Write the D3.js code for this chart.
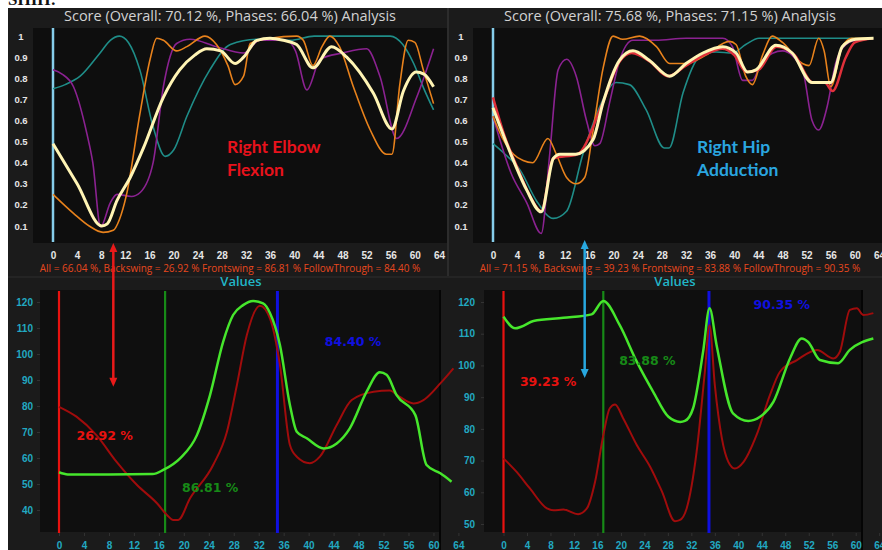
<!DOCTYPE html>
<html>
<head>
<meta charset="utf-8">
<script src="https://cdn.jsdelivr.net/npm/d3@7"></script>
<style>
  body { margin: 0; background: #fff; }
  svg { display: block; font-family: "Open Sans", "Noto Sans", sans-serif; }
</style>
</head>
<body>
<div class="plot"></div>
<script>
// Frames on the x axis and score ticks
const frameTicks = d3.range(0, 65, 4);
const scoreTicks = [0.1, 0.2, 0.3, 0.4, 0.5, 0.6, 0.7, 0.8, 0.9, 1];
const elbowValueTicks = [40, 50, 60, 70, 80, 90, 100, 110, 120];
const hipValueTicks = [50, 60, 70, 80, 90, 100, 110, 120];

// Phase boundaries (frames) and phase labels
const phaseFrames = [0, 17, 35];
const phaseLabelFrames = [2.8, 19.7, 42.6];
const elbowPhaseLabels = ["26.92 %", "86.81 %", "84.40 %"];
const elbowPhaseLabelValues = [68.5, 48.6, 104.7];
const hipPhaseLabels = ["39.23 %", "83.88 %", "90.35 %"];
const hipPhaseLabelValues = [95, 101.5, 119.3];

// Top-left: Right Elbow Flexion scores [frame, score]
const elbowAvg = [[0,0.49],[4,0.30],[8.1,0.10],[9,0.11],[10.6,0.22],[12.8,0.33],[15,0.47],[18.3,0.71],[21,0.84],[23.5,0.91],[25.5,0.94],[27.8,0.93],[30.2,0.87],[31.6,0.90],[33.8,0.98],[36,0.99],[38.2,0.98],[40.4,0.96],[43.1,0.85],[46.2,0.95],[48.7,0.90],[53.1,0.73],[56.2,0.56],[58.1,0.74],[60.2,0.83],[61.5,0.82],[63.1,0.76]];
const elbowTeal = [[0,0.75],[2,0.77],[4.5,0.81],[7.8,0.92],[9.5,0.98],[11,1.0],[12.5,0.97],[14.4,0.84],[16.6,0.57],[18.6,0.43],[20,0.46],[22.2,0.62],[26,0.84],[29.4,0.96],[33.8,0.985],[39.3,0.98],[43.3,1.0],[50,1.0],[55.9,1.0],[58,0.96],[59.8,0.87],[61.5,0.75],[63.1,0.65]];
const elbowPurple = [[0,0.84],[1.5,0.82],[3.4,0.76],[5.6,0.54],[6.6,0.40],[7.9,0.096],[9.5,0.21],[10.6,0.25],[13,0.24],[14.5,0.26],[16.6,0.40],[18.3,0.76],[20.5,0.965],[22.7,0.985],[27.1,0.95],[31.6,0.92],[34.3,0.98],[38.6,0.98],[40.2,0.93],[42.1,0.745],[44.3,0.89],[48,0.92],[52,0.94],[54.2,0.81],[57,0.515],[60.3,0.71],[63.1,0.94]];
const elbowOrange = [[0,0.25],[3.4,0.16],[6,0.10],[8.3,0.07],[10,0.08],[11,0.13],[12.2,0.25],[14.4,0.63],[16.1,0.89],[17.2,0.99],[18.3,0.98],[20.5,0.93],[22.2,0.95],[25.2,1.0],[27.1,0.96],[29,0.86],[30.2,0.77],[31.6,0.81],[32.7,0.965],[36,0.99],[40.4,1.0],[41.5,0.98],[43.1,0.86],[44.6,0.95],[45.9,1.0],[47.5,0.95],[49.8,0.76],[52.6,0.555],[55.3,0.44],[56.2,0.44],[57.5,0.77],[58.9,0.98],[60,0.97],[61.4,0.84],[63.1,0.68]];

// Top-right: Right Hip Adduction scores [frame, score]
const hipAvg = [[0,0.66],[3.4,0.41],[5.6,0.27],[8,0.167],[10,0.42],[11.1,0.44],[13.7,0.44],[16.6,0.51],[18.2,0.68],[21,0.886],[23.2,0.93],[25.9,0.886],[29.3,0.81],[32,0.87],[34.8,0.92],[38.1,0.95],[40.3,0.92],[42.2,0.83],[43.6,0.84],[46.9,0.957],[49.6,0.92],[52.9,0.78],[56,0.78],[57.9,0.95],[60.1,0.985],[63.1,0.99]];
const hipRed = [[0,0.71],[2,0.52],[4,0.38],[6,0.25],[8,0.17],[10,0.42],[14,0.44],[18,0.67],[21,0.88],[23,0.92],[26,0.88],[29,0.81],[32,0.86],[35,0.91],[38,0.94],[40,0.91],[42,0.83],[44,0.84],[47,0.95],[50,0.91],[53,0.78],[55,0.78],[56.3,0.74],[58.5,0.90],[60,0.97],[63,0.99]];
const hipTeal = [[0,0.49],[2,0.44],[4.5,0.365],[7.2,0.22],[10,0.136],[12.2,0.17],[14.9,0.44],[17.7,0.665],[20.4,0.78],[22.6,0.77],[25.4,0.65],[28.4,0.47],[29.2,0.47],[31.5,0.73],[34.2,0.90],[37,0.925],[39.7,0.92],[41.9,0.96],[44.1,0.99],[50,0.99],[63,0.99]];
const hipPurple = [[0,0.62],[3,0.35],[5.6,0.21],[8,0.065],[9.4,0.44],[10.8,0.84],[12.2,0.89],[13.8,0.81],[15.5,0.60],[16.9,0.48],[17.7,0.49],[19.3,0.68],[21,0.886],[23.2,0.98],[27,0.98],[32,0.99],[38.1,0.99],[39.7,0.95],[41.4,0.79],[43,0.79],[44.7,0.886],[48,0.93],[51.3,0.84],[52.9,0.60],[54,0.555],[55.4,0.665],[56.8,0.87],[58.5,0.96],[60,0.98],[63,0.99]];
const hipOrange = [[0,0.62],[1.5,0.52],[3.4,0.44],[5,0.41],[6.6,0.40],[9.1,0.515],[10.5,0.44],[12.2,0.33],[13.8,0.30],[15.2,0.33],[16.6,0.555],[18.2,0.84],[19.9,1.0],[21.5,0.985],[24.3,1.0],[27.1,0.95],[29.3,0.87],[32,0.87],[35.3,0.91],[39.2,0.975],[40.3,0.96],[41.9,0.81],[43,0.77],[44.7,0.91],[46.3,1.0],[48,0.97],[51.3,0.87],[52.4,0.86],[54,0.99],[54.9,0.93],[56,0.76],[57.9,0.95],[59.5,0.99],[63,0.99]];

// Bottom-left: elbow angle values [frame, value]
const elbowRed = [[0,79.7],[2.8,75.9],[6,68.8],[9.2,58.6],[12.5,49.6],[15.7,42.6],[17.3,38.1],[18.3,36.2],[19.1,36.2],[21,44.5],[24.7,57.3],[26.9,70],[28.5,88],[30.1,107.3],[32.2,118.6],[33.8,113.7],[35.4,95.8],[37,65],[38.1,60.5],[40.2,58],[41.8,60.5],[44.5,72.7],[46.9,82.3],[50.4,85.5],[53,86],[54.6,83.5],[56.8,81],[58.4,82.3],[61.1,88.7],[63.2,94.5]];
const elbowGreen = [[0,54.5],[1.4,53.7],[8,53.7],[15,53.8],[16.7,55.4],[19.4,59.9],[22.1,68.8],[24.2,84.2],[26.3,104.7],[27.9,115],[29.5,118.8],[31.1,120.4],[32.7,119.5],[33.8,115.8],[35.4,103.5],[37,80.4],[38.1,70.1],[39.7,67.6],[42.4,63.7],[44.5,65.6],[46.6,71.4],[49.3,85.5],[51.4,93],[52.5,92],[54.1,84.2],[57.1,76.5],[58.9,57.3],[61.1,54.1],[62.9,50.9]];

// Bottom-right: hip angle values [frame, value]
const hipValRed = [[0,70.7],[2.2,66.5],[4.5,61.2],[7.4,54.9],[8.5,54.3],[10.2,54.6],[12.7,53.1],[14.2,54.9],[15.6,63.3],[17,78],[18.1,86.5],[19,87.7],[20.4,83.3],[22.7,74.9],[25,68],[27,60.2],[29.2,50.9],[30,51.2],[31.2,54.9],[32.9,72.8],[34.3,98],[35.1,112.7],[36,93.8],[37.2,77],[38.3,69.6],[39.4,67.5],[40.9,69.6],[43.1,78],[45.4,90.7],[47.1,98],[50,101.7],[53.4,104.9],[56.2,102.2],[57.3,104.3],[59,117.5],[60.2,118],[61.3,115.9],[63,116.5]];
const hipValGreen = [[0,115.4],[2,111.7],[3,112.2],[5.1,114],[10.2,115],[15,116.1],[17,120.3],[19.8,112.7],[22.7,101.2],[25.5,91.7],[28.1,83.8],[30.1,82.2],[30.9,82.5],[32.3,86.5],[34,104.3],[35.1,118],[36.3,106.4],[39.1,84.9],[41.7,82.5],[43.7,83.8],[46,88.6],[48.8,102.2],[50.8,108.5],[51.9,107.4],[53.9,101.7],[57,100.7],[59,104.9],[63,108.5]];

const W = 882, H = 550;
const svg = d3.select(".plot").append("svg").attr("width", W).attr("height", H);

// page background + dark app area
svg.append("rect").attr("width", W).attr("height", H).attr("fill", "#fff");
svg.append("text").attr("x", 8).attr("y", 5).attr("font-family", "Liberation Serif")
    .attr("font-weight", "bold").attr("font-size", 17).attr("fill", "#111").text("SHIH:");
svg.append("rect").attr("x", 8).attr("y", 8).attr("width", W - 8).attr("height", H - 8).attr("fill", "#1b1b1b");

const phaseColors = ["#e8120f", "#178a17", "#1010e0"];

function drawTop(ox, title, subtitle, series, label, labelX, labelColor) {
    const g = svg.append("g");
    const x = d3.scaleLinear().domain([0, 64]).range([ox + 53, ox + 439]);
    const y = d3.scaleLinear().domain([0, 1]).range([247.1, 36.1]);

    g.append("rect").attr("x", ox + 33).attr("y", 28).attr("width", 414).attr("height", 215).attr("fill", "#0e0e0e");

    g.append("text").attr("x", ox + 230).attr("y", 21).attr("text-anchor", "middle")
        .attr("font-size", 14.5).attr("fill", "#d2d2d2").text(title);

    const ya = g.append("g").attr("transform", `translate(${ox + 33},0)`)
        .call(d3.axisLeft(y).tickValues(scoreTicks).tickFormat(d => d).tickSize(0));
    ya.select(".domain").remove();
    ya.selectAll("text").attr("x", -12).attr("text-anchor", "middle")
        .attr("fill", "#e6e6e6").attr("font-size", 9.5).attr("font-weight", 600);

    const xa = g.append("g").attr("transform", "translate(0,243)")
        .call(d3.axisBottom(x).tickValues(frameTicks).tickSize(0).tickPadding(9));
    xa.select(".domain").remove();
    xa.selectAll("text").attr("fill", "#e6e6e6").attr("font-size", 10).attr("font-weight", 600);

    g.append("line").attr("x1", x(0)).attr("x2", x(0)).attr("y1", 28).attr("y2", 242)
        .attr("stroke", "#86cdea").attr("stroke-width", 2.5);

    const line = d3.line().x(d => x(d[0])).y(d => y(d[1])).curve(d3.curveMonotoneX);
    series.forEach(s => {
        g.append("path").datum(s.data).attr("d", line).attr("fill", "none")
            .attr("stroke", s.color).attr("stroke-width", s.width).attr("stroke-linejoin", "round");
    });

    g.append("text").attr("x", ox + 230).attr("y", 272).attr("text-anchor", "middle")
        .attr("font-size", 10).attr("fill", "#e8481e").text(subtitle);

    const lt = g.append("text").attr("font-family", "Lato").attr("font-weight", "bold")
        .attr("font-size", 17.5).attr("fill", labelColor);
    label.forEach((t, i) => lt.append("tspan").attr("x", ox + labelX).attr("y", 153 + i * 23).text(t));
    return x;
}

function drawBottom(o) {
    const g = svg.append("g");
    const x = d3.scaleLinear().domain([0, 64]).range(o.xr);
    const y = d3.scaleLinear().domain(o.yd).range(o.yr);

    g.append("rect").attr("x", o.px[0]).attr("y", 290).attr("width", o.px[1] - o.px[0]).attr("height", 242).attr("fill", "#0f0f0f");
    g.append("line").attr("x1", o.px[1]).attr("x2", o.px[1]).attr("y1", 290).attr("y2", 550).attr("stroke", "#050505").attr("stroke-width", 2);

    g.append("text").attr("x", o.tx).attr("y", 286).attr("text-anchor", "middle")
        .attr("font-size", 13).attr("font-weight", 600).attr("fill", "#22b6c8").text("Values");

    const ya = g.append("g").attr("transform", `translate(${o.px[0]},0)`)
        .call(d3.axisLeft(y).tickValues(o.ticks).tickSize(3).tickPadding(o.pad));
    ya.select(".domain").remove();
    ya.selectAll("line").attr("stroke", "#333");
    ya.selectAll("text").attr("fill", "#22a9c2").attr("font-size", 10).attr("font-weight", "bold");

    const xa = g.append("g").attr("transform", "translate(0,533)")
        .call(d3.axisBottom(x).tickValues(frameTicks).tickSize(3).tickPadding(6));
    xa.select(".domain").remove();
    xa.selectAll("line").attr("stroke", "#333");
    xa.selectAll("text").attr("fill", "#22a9c2").attr("font-size", 10).attr("font-weight", "bold");

    phaseFrames.forEach((f, i) => {
        g.append("line").attr("x1", x(f)).attr("x2", x(f)).attr("y1", 291).attr("y2", 533)
            .attr("stroke", phaseColors[i]).attr("stroke-width", i === 2 ? 3 : 2.2);
    });

    const line = d3.line().x(d => x(d[0])).y(d => y(d[1])).curve(d3.curveMonotoneX);
    g.append("path").datum(o.red).attr("d", line).attr("fill", "none").attr("stroke", "#a00c0c").attr("stroke-width", 2);
    g.append("path").datum(o.green).attr("d", line).attr("fill", "none").attr("stroke", "#46e62c").attr("stroke-width", 2.5);

    o.labels.forEach((t, i) => {
        g.append("text").attr("x", x(phaseLabelFrames[i])).attr("y", y(o.labelValues[i]))
            .attr("dy", "0.35em").attr("font-family", "DejaVu Sans").attr("font-size", 12.5)
            .attr("font-weight", "bold").attr("fill", phaseColors[i]).text(t);
    });
    return {x, y};
}

const tlX = drawTop(0, "Score (Overall: 70.12 %, Phases: 66.04 %) Analysis",
    "All = 66.04 %, Backswing = 26.92 % Frontswing = 86.81 % FollowThrough = 84.40 %",
    [{data: elbowTeal, color: "#1f8d88", width: 1.6},
     {data: elbowPurple, color: "#8b2291", width: 1.6},
     {data: elbowOrange, color: "#e8821c", width: 1.6},
     {data: elbowAvg, color: "#fff4b4", width: 3}],
    ["Right Elbow", "Flexion"], 227, "#e8121c");

const trX = drawTop(440, "Score (Overall: 75.68 %, Phases: 71.15 %) Analysis",
    "All = 71.15 %, Backswing = 39.23 % Frontswing = 83.88 % FollowThrough = 90.35 %",
    [{data: hipTeal, color: "#1f8d88", width: 1.6},
     {data: hipPurple, color: "#8b2291", width: 1.6},
     {data: hipOrange, color: "#e8821c", width: 1.6},
     {data: hipRed, color: "#e0303a", width: 2.5},
     {data: hipAvg, color: "#fff4b4", width: 3}],
    ["Right Hip", "Adduction"], 257, "#2aa6e0");

// separators between panels
svg.append("line").attr("x1", 448).attr("x2", 448).attr("y1", 8).attr("y2", 276).attr("stroke", "#2c2c2c").attr("stroke-width", 2);
svg.append("line").attr("x1", 8).attr("x2", W).attr("y1", 277).attr("y2", 277).attr("stroke", "#242424").attr("stroke-width", 2);

const bl = drawBottom({xr: [59, 458.4], yd: [40, 120], yr: [510, 302], px: [40, 440], tx: 241,
    ticks: elbowValueTicks, pad: 4, red: elbowRed, green: elbowGreen,
    labels: elbowPhaseLabels, labelValues: elbowPhaseLabelValues});
const br = drawBottom({xr: [503.5, 879.2], yd: [50, 120], yr: [524, 302], px: [484, 862], tx: 675,
    ticks: hipValueTicks, pad: 6, red: hipValRed, green: hipValGreen,
    labels: hipPhaseLabels, labelValues: hipPhaseLabelValues});

// double-headed arrows linking score panels to value panels
function arrow(xp, y1, y2, color) {
    svg.append("line").attr("x1", xp).attr("x2", xp).attr("y1", y1 + 7).attr("y2", y2 - 7)
        .attr("stroke", color).attr("stroke-width", 2.5);
    svg.append("path").attr("d", `M${xp},${y1} L${xp - 4},${y1 + 9} L${xp + 4},${y1 + 9} Z`).attr("fill", color);
    svg.append("path").attr("d", `M${xp},${y2} L${xp - 4},${y2 - 9} L${xp + 4},${y2 - 9} Z`).attr("fill", color);
}
arrow(tlX(10), 243, bl.y(87.4), "#ea1a1a");
arrow(trX(15.2), 240, br.y(96), "#28a8e0");
</script>
</body>
</html>
